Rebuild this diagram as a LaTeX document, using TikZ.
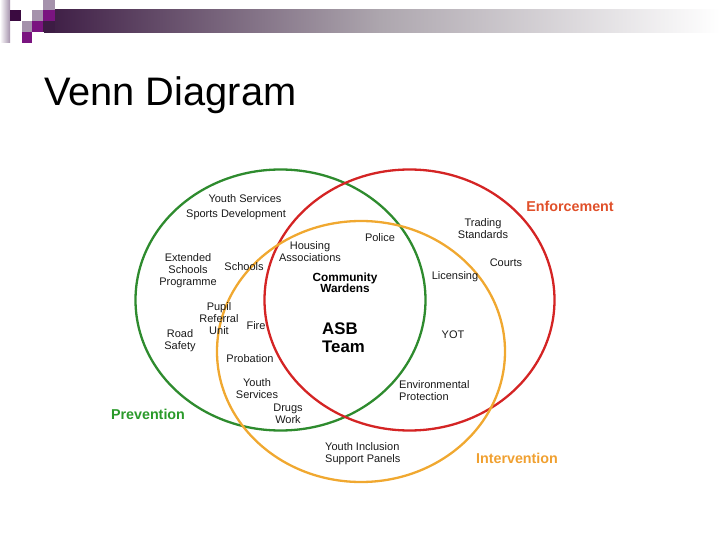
\documentclass[tikz,border=0pt]{standalone}
\usepackage{fontspec}
\setmainfont{Liberation Sans}
\definecolor{vgreen}{HTML}{2E8B2E}
\definecolor{vred}{HTML}{D42424}
\definecolor{vorange}{HTML}{F0A830}
\definecolor{tenf}{HTML}{E0502A}
\definecolor{tprev}{HTML}{2A9A2A}
\definecolor{tint}{HTML}{F0A030}
\definecolor{pdark}{HTML}{3A0A40}
\definecolor{pmid}{HTML}{7A1480}
\definecolor{pgray}{HTML}{A592AC}
\definecolor{pbar}{HTML}{3D1C44}
\definecolor{pbarmid}{HTML}{ADA6AE}
\tikzset{
  lbl/.style={align=center, inner sep=0pt, text=black!90, font=\fontsize{11}{12}\selectfont},
  lbll/.style={lbl, align=left, anchor=west},
  bld/.style={align=center, inner sep=0pt, font=\bfseries\fontsize{11.8}{11}\selectfont},
  big/.style={align=left, anchor=west, inner sep=0pt, font=\bfseries\fontsize{16.8}{18}\selectfont},
  setname/.style={inner sep=0pt, font=\bfseries\fontsize{14.3}{14}\selectfont},
  ring/.style={line width=2.3pt}
}
\begin{document}
\begin{tikzpicture}[x=1pt,y=-1pt]
\useasboundingbox (0,0) rectangle (720,540);
% header decoration
\shade[left color=pbar, right color=pbarmid] (44,10) rectangle (380,33);
\shade[left color=pbarmid, right color=white] (380,10) rectangle (720,33);
\shade[left color=white, right color=pgray] (0,0) rectangle (10,43);
\fill[pdark] (10,10) rectangle (21,21);
\fill[pgray] (43,0) rectangle (55,10);
\fill[pgray] (32,10) rectangle (43,21);
\fill[pmid] (43,10) rectangle (55,21);
\fill[pgray] (22,21) rectangle (32,32);
\fill[pmid] (32,21) rectangle (43,32);
\fill[pbar] (43,21) rectangle (55,32);
\fill[pmid] (22,32) rectangle (32,43);
% title
\node[anchor=base west, inner sep=0pt, font=\fontsize{39.8}{40}\selectfont] (title) at (44,106) {Venn Diagram};
% circles
\draw[ring, vgreen] (280.5,300) ellipse [x radius=145pt, y radius=130.5pt];
\draw[ring, vred] (409.5,300) ellipse [x radius=145pt, y radius=130.5pt];
\draw[ring, vorange] (361,351.5) ellipse [x radius=144pt, y radius=130.5pt];
% labels
\node[lbl] (ys1) at (245,199) {Youth Services};
\node[lbl] (sd) at (236,215) {Sports Development};
\node[lbl] (esp) at (188,271) {Extended\\Schools\\Programme};
\node[lbl] (sch) at (244,267) {Schools};
\node[lbl] (ha) at (310,252) {Housing\\Associations};
\node[lbl] (pol) at (380,238) {Police};
\node[lbl] (ts) at (483,229) {Trading\\Standards};
\node[lbl] (crt) at (506,263) {Courts};
\node[lbl] (lic) at (455,277) {Licensing};
\node[bld] (cw) at (345,282.5) {Community\\Wardens};
\node[lbl] (pru) at (219,319) {Pupil\\Referral\\Unit};
\node[lbl] (fire) at (256,326) {Fire};
\node[lbl] (rs) at (180,341) {Road\\Safety};
\node[big] (asb) at (322,338) {ASB\\Team};
\node[lbl] (yot) at (453,335) {YOT};
\node[lbl] (prob) at (250,359) {Probation};
\node[lbl] (ys2) at (257,389) {Youth\\Services};
\node[lbl] (dw) at (288,413.5) {Drugs\\Work};
\node[lbll] (ep) at (399,391) {Environmental\\Protection};
\node[lbll] (yisp) at (325,454) {Youth Inclusion\\Support Panels};
\node[setname, text=tprev] (prev) at (148,414) {Prevention};
\node[setname, text=tenf] (enf) at (570,206) {Enforcement};
\node[setname, text=tint] (intv) at (517,458) {Intervention};
\end{tikzpicture}
\end{document}
